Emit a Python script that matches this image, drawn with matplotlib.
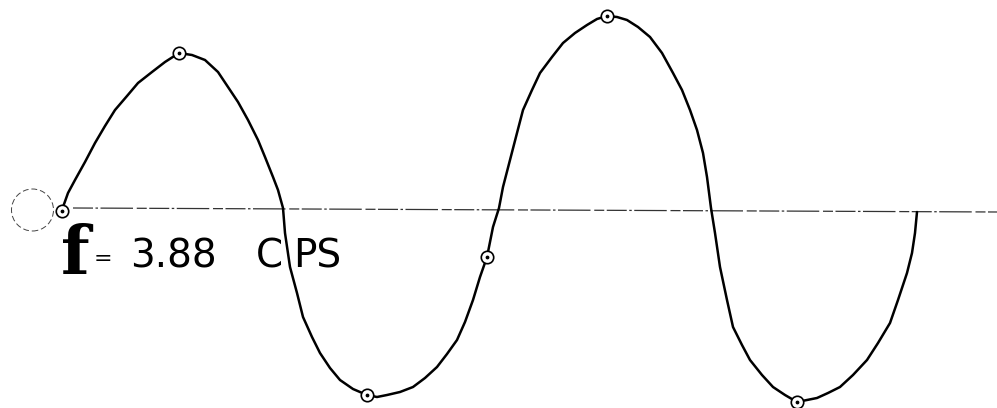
import numpy as np
import matplotlib
matplotlib.use('Agg')
from matplotlib import pyplot as plt
from matplotlib.patches import Circle

wave_x = [61.7, 68, 75, 85, 95, 105, 115, 127, 138, 152, 165, 179, 192, 205, 218, 228,
          238, 248, 258, 265, 273, 278, 283,
          285, 290, 297, 303, 312, 320, 330, 340, 353, 367, 377, 387, 400, 413, 425,
          437, 447, 457, 465, 473, 480, 487, 493, 499,
          503, 510, 517, 523, 532, 540, 552, 563, 575, 587, 597, 607, 617, 627, 638,
          650, 662, 673, 682, 690, 697, 703, 707, 711,
          715, 720, 727, 733, 742, 750, 762, 773, 785, 797, 807, 817, 828, 840, 853,
          867, 878, 890, 898, 907, 912, 915, 917]
wave_y = [-0.7, 17, 30, 48, 67, 84, 100, 114, 127, 138, 148, 157, 155, 150, 138, 123,
          108, 90, 70, 53, 33, 20, 2,
          -23, -57, -83, -107, -127, -143, -158, -170, -179, -185, -187, -185, -182, -177, -168,
          -157, -144, -130, -112, -90, -67, -47, -17, 2,
          23, 50, 77, 100, 120, 137, 153, 167, 177, 185, 191, 194, 193, 190, 183,
          173, 157, 137, 120, 100, 80, 57, 33, 2,
          -23, -57, -90, -117, -135, -150, -165, -177, -185, -192, -190, -188, -183, -177, -165,
          -150, -133, -113, -90, -63, -43, -23, -2]

# the marked readings on the trace
mark_x = [61.7, 179, 367, 487, 607, 797]
mark_y = [-0.7, 157, -185, -47, 194, -192]

freq = 3.88  # cycles per second

fig = plt.figure(figsize=(9.97, 4.08), dpi=100)
ax = fig.add_axes([0, 0, 1, 1])
ax.set_xlim(0, 997)
ax.set_ylim(-198, 210)
ax.axis('off')

# zero line, drawn by hand as a ragged dash-dot
ax.plot([73, 997], [2, -2], color='#333333', lw=0.9, dashes=(16, 2, 2, 2, 26, 3, 8, 2))

# dashed circle at the start of the trace
ax.add_patch(Circle((32.5, 0), 21, fill=False, ls=(0, (6, 3)), lw=0.7, color='#444444'))

ax.plot(wave_x, wave_y, color='black', lw=1.8, solid_capstyle='round', solid_joinstyle='round')

ax.scatter(mark_x, mark_y, s=80, facecolor='white', edgecolor='black', lw=1.2, zorder=3)
ax.scatter(mark_x, mark_y, s=3, color='black', zorder=4)

# lettering
ax.text(61, -64, 'f', family='DejaVu Serif', weight='bold', fontsize=48, ha='left', va='baseline')
ax.text(94, -55, '=', family='DejaVu Sans', fontsize=16, ha='left', va='baseline')
ax.text(130, -57, '%.2f' % freq, family='DejaVu Sans', fontsize=28, ha='left', va='baseline')
ax.text(256, -57, 'C', family='DejaVu Sans', fontsize=28, ha='left', va='baseline')
ax.text(293, -57, 'PS', family='DejaVu Sans', fontsize=28, ha='left', va='baseline')

fig.savefig('out.png', dpi=100)
